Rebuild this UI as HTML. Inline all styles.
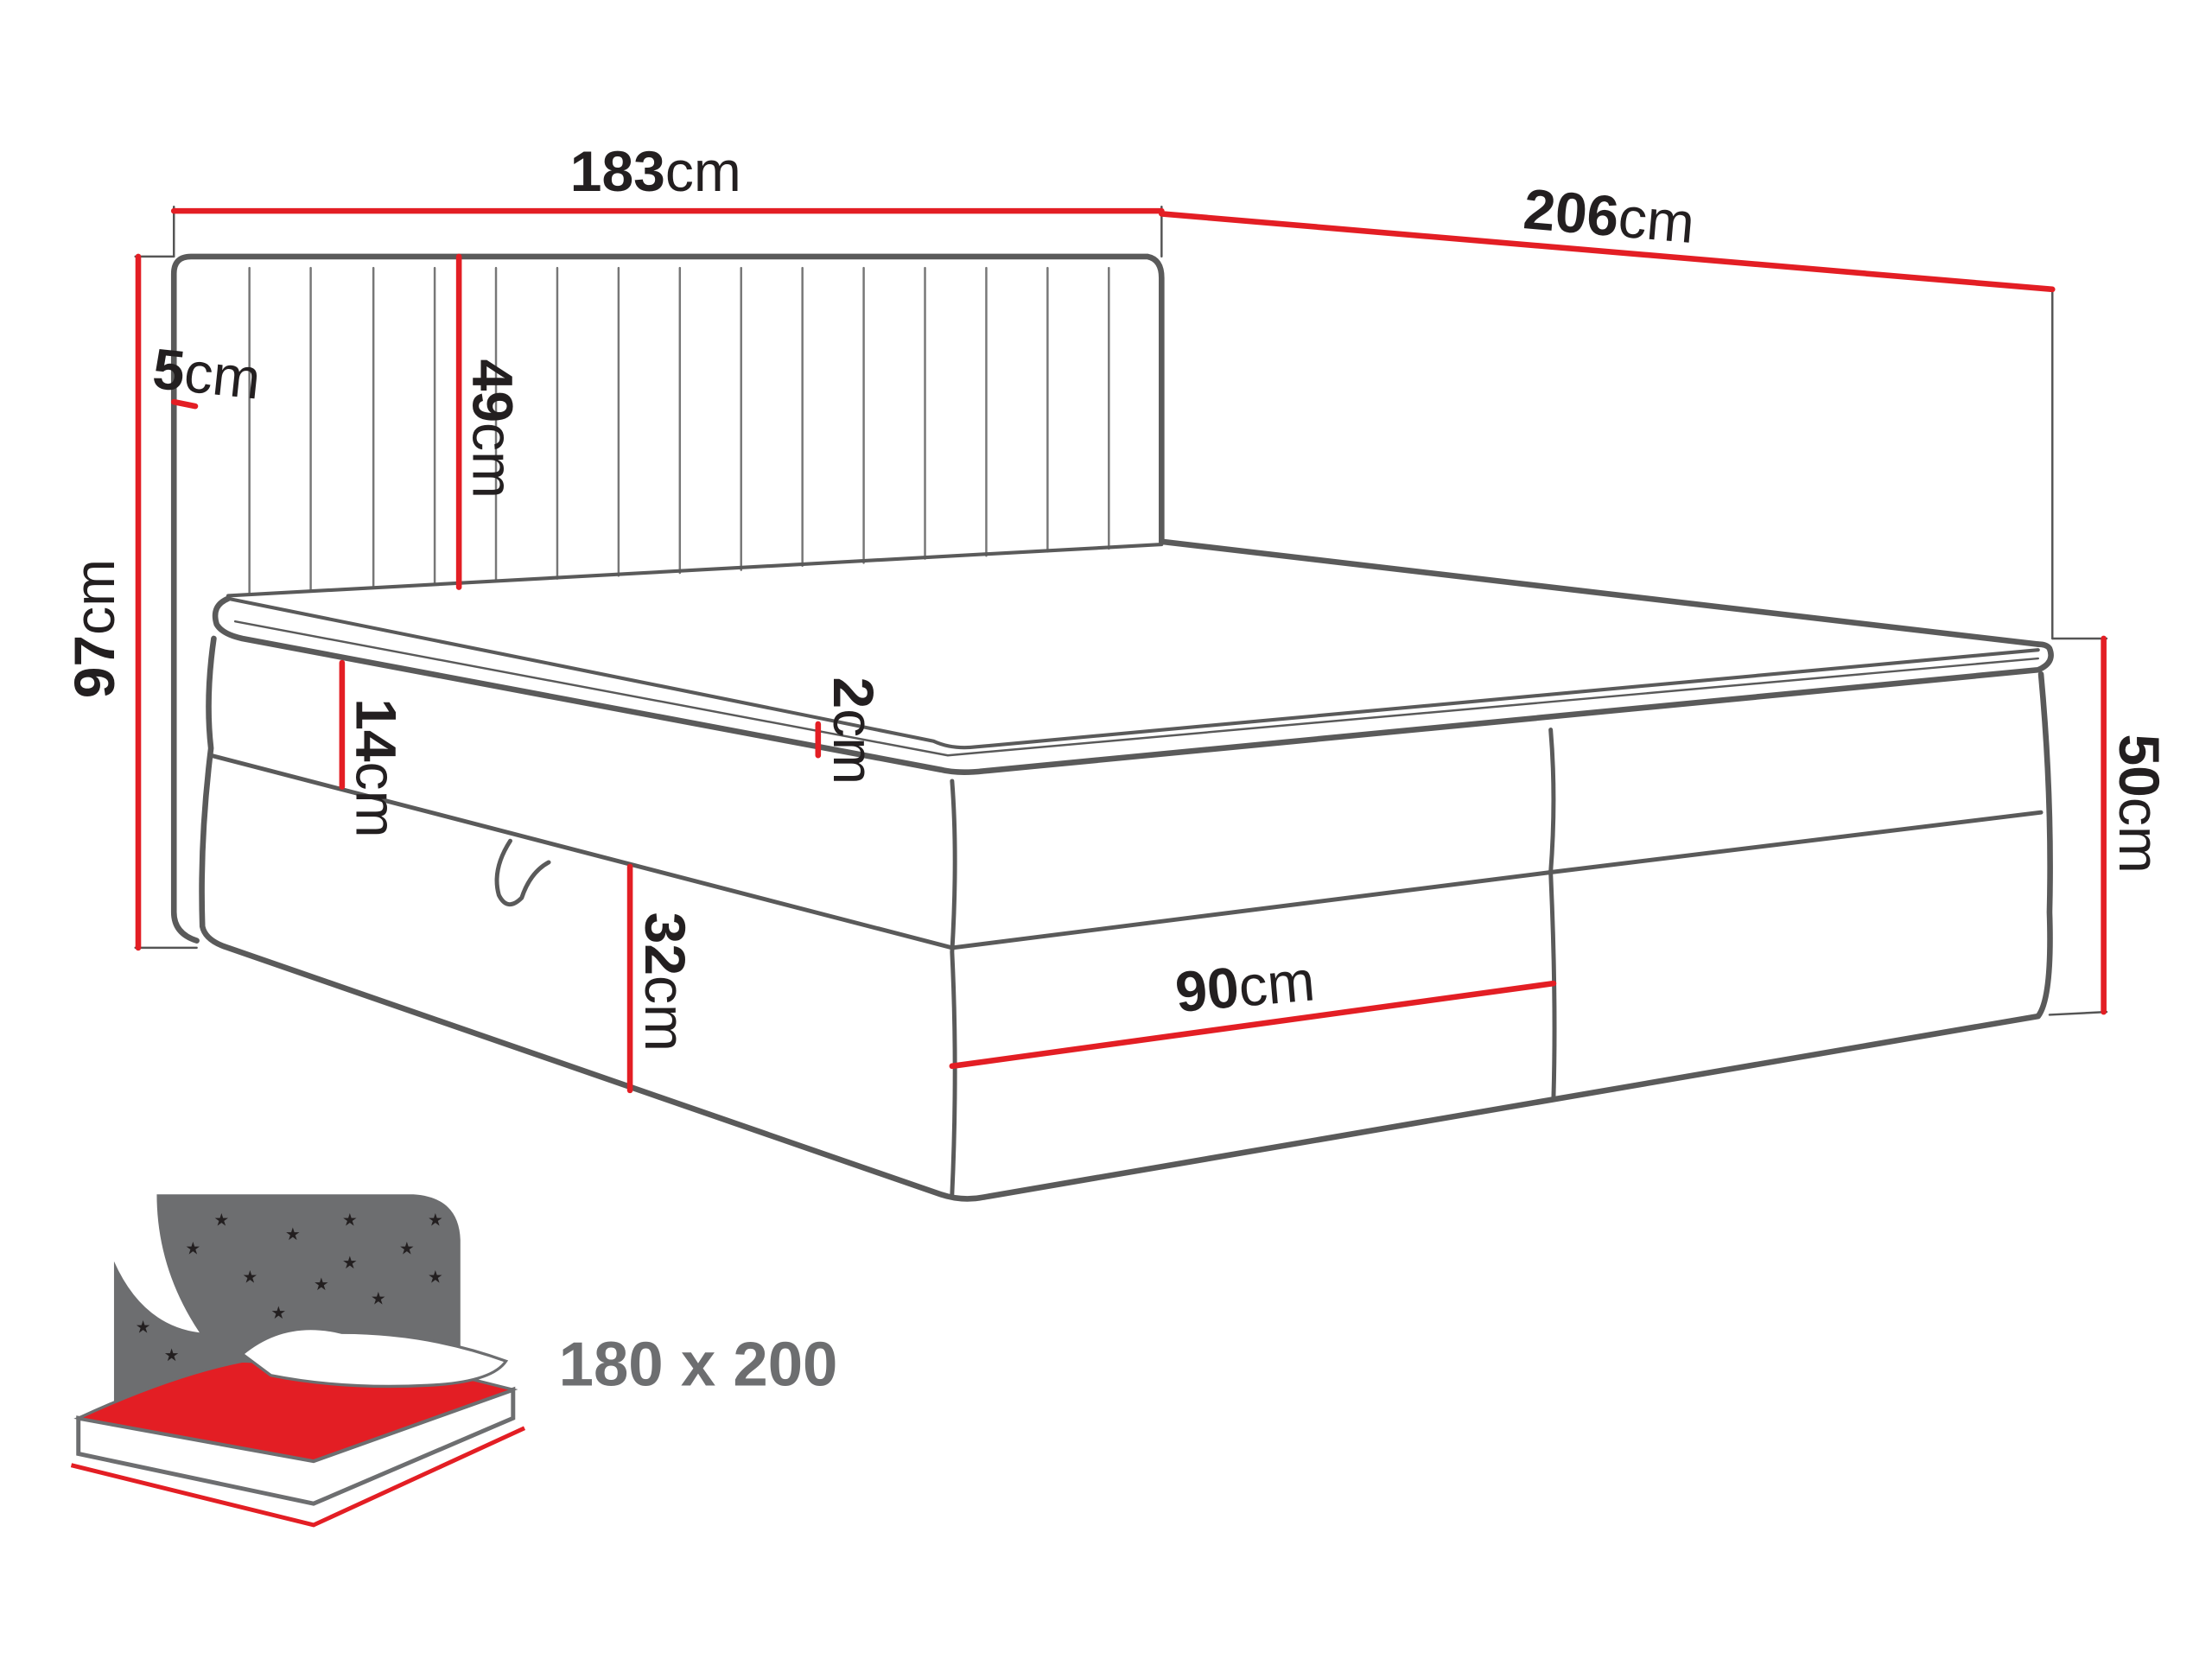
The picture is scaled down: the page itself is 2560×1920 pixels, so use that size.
<!DOCTYPE html>
<html><head><meta charset="utf-8"><style>
html,body{margin:0;padding:0;background:#fff;width:2560px;height:1920px;overflow:hidden}
svg{display:block}
text{font-family:"Liberation Sans",sans-serif;fill:#231f20}
</style></head><body>
<svg width="2560" height="1920" viewBox="0 0 1552 1164" xmlns="http://www.w3.org/2000/svg">
<g fill="none" stroke="#5a5a5a" stroke-width="4" stroke-linejoin="round" stroke-linecap="round">
<!-- headboard -->
<path d="M138,660 Q122,655 122,640 L122,192 Q122,180 134,180 L805,180 Q815,182 815,195 L815,380"/>
<path d="M815,380 L1430,452"/>
<!-- stripes -->
<g stroke-width="1.5" stroke="#777">
<line x1="175" y1="188" x2="175" y2="416"/><line x1="218" y1="188" x2="218" y2="414"/>
<line x1="262" y1="188" x2="262" y2="412"/><line x1="305" y1="188" x2="305" y2="410"/>
<line x1="348" y1="188" x2="348" y2="408"/><line x1="391" y1="188" x2="391" y2="406"/>
<line x1="434" y1="188" x2="434" y2="404"/><line x1="477" y1="188" x2="477" y2="402"/>
<line x1="520" y1="188" x2="520" y2="400"/><line x1="563" y1="188" x2="563" y2="397"/>
<line x1="606" y1="188" x2="606" y2="395"/><line x1="649" y1="188" x2="649" y2="392"/>
<line x1="692" y1="188" x2="692" y2="390"/><line x1="735" y1="188" x2="735" y2="387"/>
<line x1="778" y1="188" x2="778" y2="385"/>
</g>
<path d="M160,418 L815,382" stroke-width="2.5"/>
<!-- topper -->
<path d="M160,420 Q148,425 152,438 Q156,445 170,448 L660,540 Q672,543 690,541 L1430,470 Q1442,465 1438,455 Q1436,452 1430,452"/>
<path d="M160,420 L655,520 Q668,526 685,524 L1430,456" stroke-width="2.5"/>
<path d="M165,436 L665,530 L1430,462" stroke-width="1.5"/>
<!-- box -->
<path d="M150,448 Q144,490 148,525 Q140,590 142,650 Q144,660 160,665 L660,838 Q675,843 690,840 L1430,713 Q1440,700 1438,640 Q1440,560 1432,473"/>
<path d="M148,530 L668,665 L1088,612 L1432,570" stroke-width="3"/>
<path d="M668,548 Q672,600 668,668 Q672,750 668,838" stroke-width="3"/>
<path d="M1088,512 Q1092,560 1088,612 Q1092,700 1090,770" stroke-width="3"/>
<path d="M358,590 Q345,610 350,628 Q356,640 366,630 Q372,612 385,605" stroke-width="3"/>
<!-- guides -->
<g stroke="#555" stroke-width="1.5">
<line x1="122" y1="145" x2="122" y2="180"/><line x1="815" y1="145" x2="815" y2="180"/>
<line x1="1440" y1="203" x2="1440" y2="448"/><line x1="95" y1="180" x2="122" y2="180"/>
<line x1="95" y1="665" x2="138" y2="665"/><line x1="1440" y1="448" x2="1478" y2="448"/>
<line x1="1438" y1="712" x2="1478" y2="710"/>
</g>
</g>
<!-- red dims -->
<g stroke="#e31e24" stroke-width="4" stroke-linecap="round">
<line x1="122" y1="148" x2="815" y2="148"/>
<line x1="815" y1="150" x2="1440" y2="203"/>
<line x1="97" y1="180" x2="97" y2="665"/>
<line x1="122" y1="282" x2="137" y2="285"/>
<line x1="322" y1="180" x2="322" y2="412"/>
<line x1="240" y1="465" x2="240" y2="552"/>
<line x1="574" y1="508" x2="574" y2="530"/>
<line x1="442" y1="608" x2="442" y2="765"/>
<line x1="668" y1="748" x2="1090" y2="690"/>
<line x1="1476" y1="448" x2="1476" y2="710"/>
</g>
<!-- labels -->
<g font-size="40">
<text x="400" y="134"><tspan font-weight="bold">183</tspan>cm</text>
<text x="1068" y="160" transform="rotate(5 1068 160)"><tspan font-weight="bold">206</tspan>cm</text>
<text x="106" y="272" transform="rotate(6 106 272)"><tspan font-weight="bold">5</tspan>cm</text>
<text x="80" y="490" transform="rotate(-90 80 490)"><tspan font-weight="bold">97</tspan>cm</text>
<text x="332" y="252" transform="rotate(90 332 252)"><tspan font-weight="bold">49</tspan>cm</text>
<text x="250" y="490" transform="rotate(90 250 490)"><tspan font-weight="bold">14</tspan>cm</text>
<text x="585" y="475" transform="rotate(90 585 475)"><tspan font-weight="bold">2</tspan>cm</text>
<text x="453" y="640" transform="rotate(90 453 640)"><tspan font-weight="bold">32</tspan>cm</text>
<text x="1487" y="515" transform="rotate(90 1487 515)"><tspan font-weight="bold">50</tspan>cm</text>
<text x="826" y="710" transform="rotate(-5 826 710)"><tspan font-weight="bold">90</tspan>cm</text>
</g>
<!-- icon -->
<path d="M110,838 L290,838 Q322,840 323,870 L323,950 L80,990 L80,885 Q100,930 140,935 Q110,890 110,838Z" fill="#6d6e70"/>
<g fill="#fff" font-size="12"><text x="150" y="860">★</text><text x="200" y="870">★</text><text x="240" y="860">★</text><text x="280" y="880">★</text><text x="170" y="900">★</text><text x="220" y="905">★</text><text x="260" y="915">★</text><text x="300" y="860">★</text><text x="130" y="880">★</text><text x="190" y="925">★</text><text x="95" y="935">★</text><text x="115" y="955">★</text><text x="300" y="900">★</text><text x="240" y="890">★</text></g>
<path d="M55,995 L220,1025 L360,975 L360,995 L220,1055 L55,1020Z" fill="#fff" stroke="#6d6e70" stroke-width="3"/>
<path d="M55,995 Q120,965 170,955 L300,960 L360,975 L220,1025Z" fill="#e31e24" stroke="#6d6e70" stroke-width="2"/>
<path d="M170,950 Q200,925 240,935 Q300,935 355,955 Q345,970 300,972 Q240,975 190,965Z" fill="#fff" stroke="#6d6e70" stroke-width="2"/>
<g stroke="#e31e24" stroke-width="3" fill="none"><path d="M50,1028 L220,1070 L368,1002"/></g>
<text x="392" y="972" font-size="44" font-weight="bold" style="fill:#6d6e70">180 x 200</text>
</svg>
</body></html>
